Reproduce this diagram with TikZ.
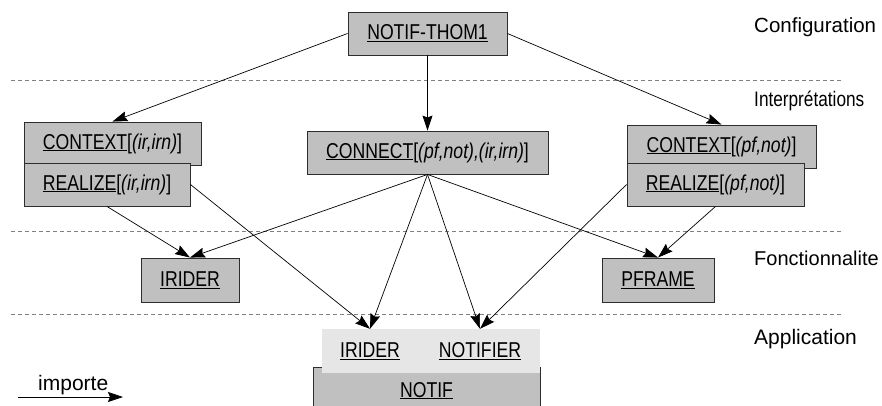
\documentclass[tikz,border=0pt]{standalone}
\usepackage{fontspec}
\setmainfont{Liberation Sans}
\newfontfamily\narrowfont{Liberation Sans}[FakeStretch=0.82]
\usetikzlibrary{arrows.meta}

\definecolor{boxgray}{RGB}{192,192,192}
\definecolor{lightbox}{RGB}{230,230,230}
\definecolor{edgegray}{RGB}{45,45,45}
\tikzset{
  modbox/.style={draw=edgegray,fill=boxgray,line width=0.9pt,minimum height=43pt,inner sep=0pt,font=\narrowfont\fontsize{21.5}{25}\selectfont},
  appname/.style={minimum height=44pt,inner sep=0pt,font=\narrowfont\fontsize{21.5}{25}\selectfont},
  imp/.style={-{Stealth[length=15pt,width=10pt,inset=2pt]},line width=0.7pt},
  layer/.style={draw=gray,dash pattern=on 4pt off 3pt,line width=0.8pt},
  level/.style={anchor=base west,inner sep=0pt,font=\fontsize{21}{25}\selectfont}
}
\newcommand{\modname}[2]{\underline{#1}[\textit{#2}]}

\begin{document}
\begin{tikzpicture}[x=1pt,y=-1pt]
\useasboundingbox (0,0) rectangle (882,405);
\clip (0,0) rectangle (882,405);
\draw[layer] (11,80) -- (843,80);
\draw[layer] (11,231) -- (843,231);
\draw[layer] (11,314) -- (843,314);

\node[level,font=\fontsize{20.5}{25}\selectfont] (lconf) at (754,32) {Configuration};
\node[level,font=\narrowfont\fontsize{21}{25}\selectfont] (linterp) at (754,106) {Interprétations};
\node[level,font=\fontsize{20}{25}\selectfont] (lfonc) at (754,265) {Fonctionnalite};
\node[level] (lappl) at (754,344) {Application};

\node[modbox,minimum width=159pt] (thom) at (427.5,33.5) {\underline{NOTIF-THOM1}};
\node[modbox,minimum width=177pt] (ctxl) at (112.5,143.5) {\modname{CONTEXT}{(ir,irn)}};
\node[modbox,minimum width=166pt] (reall) at (107,184.5) {\modname{REALIZE}{(ir,irn)}};
\node[modbox,minimum width=241pt] (connect) at (427.5,152.5) {\modname{CONNECT}{(pf,not),(ir,irn)}};
\node[modbox,minimum width=189pt] (ctxr) at (721.5,146.5) {\modname{CONTEXT}{(pf,not)}};
\node[modbox,minimum width=177pt] (realr) at (715.5,184.5) {\modname{REALIZE}{(pf,not)}};
\node[modbox,minimum width=98pt,minimum height=44pt] (iriderf) at (190,280) {\underline{IRIDER}};
\node[modbox,minimum width=112pt,minimum height=44pt] (pframe) at (658,280) {\underline{PFRAME}};

\node[modbox,minimum width=227pt,minimum height=48pt,text depth=0pt] (notif) at (426.5,391) {\raisebox{3pt}{\underline{NOTIF}}};
\node[fill=lightbox,minimum width=218pt,minimum height=44pt,inner sep=0pt] (appbox) at (431,351) {};
\node[appname] (iridera) at (370,351) {\underline{IRIDER}};
\node[appname] (notifier) at (480,351) {\underline{NOTIFIER}};

\draw[imp] (thom.west) -- (ctxl.north);
\draw[imp] (thom.south) -- (connect.north);
\draw[imp] (thom.east) -- (ctxr.north);
\draw[imp] (reall.south) -- (iriderf.north);
\draw[imp] (reall.east) -- (iridera.north);
\draw[imp] (connect.south) -- (iriderf.north);
\draw[imp] (connect.south) -- (iridera.north);
\draw[imp] (connect.south) -- (notifier.north);
\draw[imp] (connect.south) -- (pframe.north);
\draw[imp] (realr.west) -- (notifier.north);
\draw[imp] (realr.south) -- (pframe.north);

\node[level] (limp) at (38,390) {importe};
\coordinate (imp0) at (18,397);
\coordinate (imp1) at (123,397);
\draw[imp] (imp0) -- (imp1);
\end{tikzpicture}
\end{document}
